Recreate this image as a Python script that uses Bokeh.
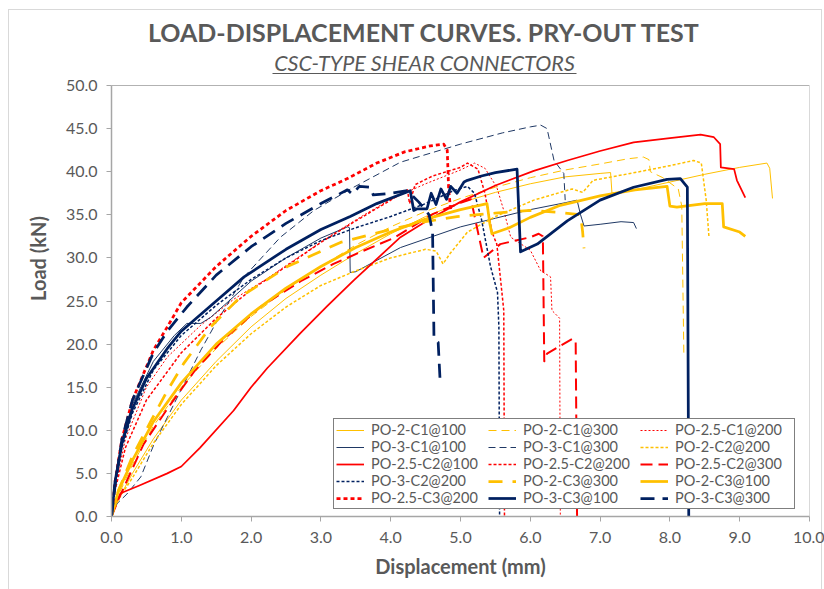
from bokeh.plotting import figure
from bokeh.models import (Legend, LegendItem, Label, BoxAnnotation, FixedTicker,
                          NumeralTickFormatter, Range1d)
from bokeh.embed import file_html
from bokeh.resources import INLINE

# ---------------- data ----------------
x_ticks = [0, 1, 2, 3, 4, 5, 6, 7, 8, 9, 10]
y_ticks = [0, 5, 10, 15, 20, 25, 30, 35, 40, 45, 50]

po2_c1_100_x = [0, 0.1, 0.3, 0.6, 1.0, 1.5, 2.0, 2.5, 3.0, 3.5, 4.0, 4.5, 5.0, 5.5, 6.0, 6.5, 7.0, 7.15, 7.17, 7.5, 8.0, 8.5, 9.0, 9.39, 9.43, 9.47]
po2_c1_100_y = [0, 2, 5, 9, 13.5, 18, 22, 25.3, 28, 30.5, 32.8, 34.8, 36.4, 37.6, 38.6, 39.4, 39.8, 39.9, 37.5, 37.9, 38.8, 39.7, 40.5, 41.0, 40.4, 36.9]

po2_c1_300_x = [0, 0.1, 0.3, 0.6, 1.0, 1.5, 2.0, 2.5, 3.0, 3.5, 4.0, 4.5, 5.0, 5.5, 6.0, 6.5, 7.0, 7.4, 7.62, 7.7, 7.72, 7.9, 8.12, 8.17, 8.2]
po2_c1_300_y = [0, 2.5, 6, 10.5, 15, 19.5, 23.2, 26.3, 29, 31.5, 33.6, 35.4, 36.9, 38.2, 39.3, 40.2, 40.9, 41.5, 41.7, 41.4, 40.0, 39.3, 38.0, 36, 18.7]

po25_c1_200_x = [0, 0.05, 0.2, 0.5, 0.8, 1.28, 1.75, 2.23, 2.7, 3.18, 3.6, 4.0, 4.5, 5.0, 5.2, 5.35, 5.52, 5.62, 5.72, 6.0, 6.15, 6.29, 6.31, 6.36, 6.42, 6.43]
po25_c1_200_y = [0, 3.5, 9, 15, 18.5, 22.2, 25.2, 27.6, 30.2, 32.8, 34.9, 36.8, 38.6, 40.2, 41.0, 40.4, 38.2, 35.5, 32.4, 30.9, 28.5, 27.8, 23.9, 23.5, 23.0, 0]

po3_c1_100_x = [0, 0.05, 0.15, 0.3, 0.6, 0.9, 1.08, 1.28, 1.42, 2.0, 2.5, 3.0, 3.38, 3.41, 3.42, 3.5, 4.14, 5.0, 5.5, 6.0, 6.5, 6.67, 6.72, 6.77, 7.0, 7.3, 7.48, 7.52]
po3_c1_100_y = [0, 4, 9, 13, 18, 21, 22.4, 22.4, 23.1, 27.3, 30, 32.3, 33.6, 33.5, 28.3, 28.4, 31.2, 33.6, 34.6, 35.6, 36.4, 36.7, 35, 33.7, 33.9, 34.2, 34.1, 33.4]

po3_c1_300_x = [0, 0.08, 0.22, 0.42, 0.61, 0.8, 0.99, 1.28, 1.5, 1.9, 2.42, 2.9, 3.47, 4.14, 5.0, 5.6, 6.0, 6.15, 6.24, 6.34, 6.48, 6.5]
po3_c1_300_y = [0, 1.5, 2.6, 4.6, 8.4, 11.5, 14.6, 19.3, 22.5, 27.8, 32.4, 35.5, 38.2, 41.1, 43.2, 44.5, 45.2, 45.4, 45.0, 41.3, 39.8, 36.7]

po2_c2_200_x = [0, 0.1, 0.3, 0.6, 1.0, 1.5, 2.0, 2.5, 3.0, 3.5, 4.0, 4.5, 4.65, 4.75, 4.85, 5.1, 5.5, 6.05, 6.6, 6.75, 6.9, 7.5, 8.0, 8.34, 8.45, 8.52, 8.56]
po2_c2_200_y = [0, 2, 4.5, 8.5, 13, 17.5, 21.2, 24.3, 26.8, 28.5, 30, 31, 30.8, 29.3, 30.5, 33, 34.8, 36.7, 38.0, 37.6, 39.0, 39.9, 40.7, 41.3, 41.0, 36.7, 32.4]

po25_c2_100_x = [0, 0.05, 0.13, 0.4, 0.8, 1.0, 1.27, 1.75, 2.0, 2.23, 2.71, 3.09, 3.47, 4.14, 4.52, 5.0, 5.5, 6.05, 6.53, 7.0, 7.48, 8.0, 8.44, 8.63, 8.72, 8.73, 8.92, 8.96, 9.08]
po25_c2_100_y = [0, 1.5, 2.7, 3.6, 5.0, 5.8, 8.0, 12.3, 15.0, 17.2, 21.3, 24.4, 27.4, 32.4, 34.3, 36.5, 38.4, 40.1, 41.3, 42.4, 43.4, 43.9, 44.3, 44.0, 43.2, 40.5, 40.3, 39.0, 37.0]

po25_c2_200_x = [0, 0.05, 0.2, 0.5, 1.0, 1.5, 2.0, 2.5, 3.0, 3.5, 4.0, 4.24, 4.27, 4.35, 4.6, 5.0, 5.1, 5.25, 5.35, 5.45, 5.52, 5.57, 5.62, 5.63]
po25_c2_200_y = [0, 3, 8, 13.5, 19, 23, 26.3, 29, 31.8, 34.3, 36.7, 37.9, 36.3, 38.5, 39.5, 40.5, 41.0, 40.3, 37.5, 33, 31.6, 27.8, 23.9, 0]

po25_c2_300_x = [0, 0.1, 0.46, 0.8, 1.2, 1.6, 2.13, 2.71, 3.18, 3.6, 4.04, 4.61, 5.0, 5.15, 5.25, 5.33, 5.57, 6.0, 6.12, 6.18, 6.2, 6.24, 6.6, 6.65, 6.67]
po25_c2_300_y = [0, 2, 8.4, 12.5, 17, 20.5, 24.3, 27.3, 29.3, 30.8, 32.3, 35.1, 36.4, 36.8, 33, 30.0, 31.6, 32.4, 32.8, 32.5, 18.0, 18.9, 20.6, 20.4, 0]

po3_c2_200_x = [0, 0.05, 0.15, 0.3, 0.6, 1.0, 1.5, 2.0, 2.5, 3.0, 3.5, 4.0, 4.5, 4.9, 5.1, 5.2, 5.3, 5.43, 5.53, 5.55, 5.56]
po3_c2_200_y = [0, 3.5, 8, 12, 17, 21, 24.5, 27.5, 30, 32, 33.5, 34.8, 36.3, 37.8, 38.3, 37.5, 34.5, 29, 26, 22, 0]

po2_c3_300_x = [0, 0.1, 0.3, 0.56, 0.8, 1.03, 1.42, 1.85, 2.52, 3.28, 4.0, 4.5, 4.95, 5.5, 6.0, 6.4, 6.72, 6.75, 6.77]
po2_c3_300_y = [0, 3, 7, 11, 14.6, 17.7, 22, 25.5, 29, 31.8, 33.3, 34.2, 34.8, 35.2, 35.5, 35.3, 35.0, 33, 31.1]

po2_c3_100_x = [0, 0.1, 0.3, 0.6, 1.0, 1.5, 2.0, 2.5, 3.0, 3.5, 4.0, 4.5, 5.0, 5.38, 5.42, 5.45, 5.7, 6.0, 6.43, 7.0, 7.5, 7.96, 8.0, 8.1, 8.5, 8.75, 8.77, 9.0, 9.08]
po2_c3_100_y = [0, 3, 6.5, 11, 15.5, 20, 23.5, 26.5, 29, 31.2, 33, 34.5, 35.6, 36.3, 34, 32.8, 33.5, 34.7, 36.1, 37.2, 37.9, 38.3, 36.0, 35.9, 36.3, 36.3, 33.6, 33.0, 32.5]

po25_c3_200_x = [0, 0.05, 0.15, 0.3, 0.6, 0.8, 1.0, 1.5, 2.0, 2.5, 3.0, 3.38, 3.8, 4.2, 4.57, 4.76, 4.81, 4.83, 4.86]
po25_c3_200_y = [0, 4, 9, 13.5, 19.3, 22, 24.8, 29, 32.5, 35.5, 37.8, 39.2, 41, 42.3, 43.0, 43.2, 42.5, 38, 35.5]

po3_c3_100_x = [0, 0.05, 0.15, 0.3, 0.5, 0.8, 1.0, 1.5, 1.9, 2.5, 3.0, 3.42, 3.8, 4.28, 4.33, 4.38, 4.52, 4.58, 4.65, 4.72, 4.8, 4.86, 4.95, 5.05, 5.1, 5.3, 5.5, 5.81, 5.86, 6.1, 6.53, 7.0, 7.48, 7.96, 8.15, 8.25, 8.27]
po3_c3_100_y = [0, 4, 8.5, 12.5, 16, 19.5, 21.5, 25, 27.8, 31, 33.3, 34.8, 36.3, 37.8, 35.5, 35.7, 35.7, 37.5, 36.2, 38.0, 36.8, 38.3, 37.5, 38.8, 39.0, 39.5, 39.9, 40.3, 30.7, 31.6, 34.3, 36.7, 38.2, 39.1, 39.2, 38.2, 0]

po3_c3_300_x = [0, 0.05, 0.15, 0.3, 0.6, 0.8, 1.08, 1.5, 2.0, 2.5, 3.0, 3.38, 3.45, 3.55, 3.71, 3.75, 4.0, 4.24, 4.4, 4.55, 4.6, 4.62, 4.68, 4.71]
po3_c3_300_y = [0, 3.5, 9, 13.5, 19, 21.5, 24.3, 28, 31.3, 34, 36.3, 37.9, 37.4, 38.3, 38.2, 37.3, 37.5, 37.8, 36.5, 35.0, 33, 20.6, 20.2, 15.4]

series_names = ["PO-2-C1@100", "PO-2-C1@300", "PO-2.5-C1@200",
                "PO-3-C1@100", "PO-3-C1@300", "PO-2-C2@200",
                "PO-2.5-C2@100", "PO-2.5-C2@200", "PO-2.5-C2@300",
                "PO-3-C2@200", "PO-2-C3@300", "PO-2-C3@100",
                "PO-2.5-C3@200", "PO-3-C3@100", "PO-3-C3@300"]
series_x = [po2_c1_100_x, po2_c1_300_x, po25_c1_200_x, po3_c1_100_x, po3_c1_300_x, po2_c2_200_x,
            po25_c2_100_x, po25_c2_200_x, po25_c2_300_x, po3_c2_200_x, po2_c3_300_x, po2_c3_100_x,
            po25_c3_200_x, po3_c3_100_x, po3_c3_300_x]
series_y = [po2_c1_100_y, po2_c1_300_y, po25_c1_200_y, po3_c1_100_y, po3_c1_300_y, po2_c2_200_y,
            po25_c2_100_y, po25_c2_200_y, po25_c2_300_y, po3_c2_200_y, po2_c3_300_y, po2_c3_100_y,
            po25_c3_200_y, po3_c3_100_y, po3_c3_300_y]

title_text = "LOAD-DISPLACEMENT CURVES. PRY-OUT TEST"
subtitle_text = "CSC-TYPE SHEAR CONNECTORS"

# ---------------- styles ----------------
GOLD, RED, NAVY, NAVY_T = "#FFC000", "#FF0000", "#002060", "#1F3864"
styles = [
    (GOLD, 1.0, "solid"), (GOLD, 1.0, "8 5"), (RED, 1.0, "2 2"),
    (NAVY_T, 1.0, "solid"), (NAVY_T, 1.0, "7 4"), (GOLD, 1.5, "3 2"),
    (RED, 1.75, "solid"), (RED, 1.5, "3 2"), (RED, 2.0, "12 6"),
    (NAVY, 1.5, "3 2"), (GOLD, 2.75, "14 10"), (GOLD, 2.75, "solid"),
    (RED, 2.75, "4 3"), (NAVY, 2.75, "solid"), (NAVY, 2.75, "14 8"),
]

TXT = "#595959"
FONT = "Lato"
BORDER = "#D9D9D9"

Y_MIN, Y_MAX = y_ticks[0], y_ticks[-1]
X_MIN, X_MAX = x_ticks[0], x_ticks[-1]
FRAME_H = 516          # pixels from canvas top to the x axis
PLOT_H = 431           # pixels spanned by 0..50
y_top = Y_MAX * FRAME_H / PLOT_H   # head-room inside the frame for the titles

p = figure(width=824, height=589, output_backend="svg", toolbar_location=None,
           x_range=Range1d(X_MIN, X_MAX), y_range=Range1d(Y_MIN, y_top),
           min_border_left=111, min_border_right=15, min_border_top=0, min_border_bottom=73)
p.title.visible = False
p.xgrid.visible = False
p.ygrid.visible = False
p.outline_line_color = None
p.background_fill_color = None
p.border_fill_color = None
# light-grey chart-area border (drawn by the page behind the transparent canvas)
grad = "linear-gradient(%s,%s)" % (BORDER, BORDER)
p.styles = {
    "background-color": "white",
    "background-image": ", ".join([grad, grad, grad]),
    "background-position": "8px 9px, 8px 9px, 821px 9px",
    "background-size": "1px 600px, 814px 1px, 1px 600px",
    "background-repeat": "no-repeat",
}

# plot-area border (0..10 x 0..50)
p.add_layout(BoxAnnotation(left=X_MIN, right=X_MAX, bottom=Y_MIN, top=Y_MAX,
                           fill_color="white", fill_alpha=1.0,
                           line_color="black", line_width=1, level="underlay"))

items = []
for name, xs, ys, (c, w, d) in zip(series_names, series_x, series_y, styles):
    r = p.line(xs, ys, line_color=c, line_width=w, line_dash=d, line_join="round")
    items.append(LegendItem(label=name, renderers=[r]))

for ax in (p.xaxis[0], p.yaxis[0]):
    ax.axis_line_color = "#A6A6A6"
    ax.axis_line_width = 1.5
    ax.major_tick_line_color = "#A6A6A6"
    ax.major_tick_out = 5
    ax.major_tick_in = 0
    ax.minor_tick_out = 0
    ax.minor_tick_in = 0
    ax.major_label_text_font = FONT
    ax.major_label_text_font_size = "16px"
    ax.major_label_text_color = TXT
    ax.axis_label_text_font = FONT
    ax.axis_label_text_font_size = "20px"
    ax.axis_label_text_font_style = "bold"
    ax.axis_label_text_color = TXT
    ax.formatter = NumeralTickFormatter(format="0.0")

p.xaxis.ticker = FixedTicker(ticks=x_ticks)
p.yaxis.ticker = FixedTicker(ticks=y_ticks)
p.yaxis.bounds = (Y_MIN, Y_MAX)
p.xaxis.axis_label = "Displacement (mm)"
p.yaxis.axis_label = "Load (kN)"
p.xaxis.major_label_standoff = 10
p.yaxis.major_label_standoff = 9
p.xaxis.axis_label_standoff = 8
p.yaxis.axis_label_standoff = 13

legend = Legend(items=items, ncols=3, orientation="horizontal", location=(222, 7),
                border_line_color="black", border_line_width=1,
                label_text_font=FONT, label_text_font_size="14.5px", label_text_color=TXT,
                glyph_width=28, glyph_height=14, label_standoff=7, label_width=117,
                label_height=14, spacing=0, padding=2, margin=0,
                background_fill_color="white", background_fill_alpha=1.0)
p.add_layout(legend)

# titles, placed in the head-room above the plot area
px_per_y = PLOT_H / (Y_MAX - Y_MIN)
px_per_x = (809 - 111) / (X_MAX - X_MIN)
cx = X_MIN + (424 - 111) / px_per_x
p.add_layout(Label(x=cx, y=(FRAME_H - 31) / px_per_y, text=title_text,
                   text_align="center", text_baseline="middle",
                   text_font=FONT, text_font_size="25px", text_font_style="bold",
                   text_color=TXT))
p.add_layout(Label(x=cx, y=(FRAME_H - 62) / px_per_y, text=subtitle_text,
                   text_align="center", text_baseline="middle",
                   text_font=FONT, text_font_size="21.5px", text_font_style="italic",
                   text_color=TXT))
p.add_layout(BoxAnnotation(left=(272 - 111) / px_per_x, right=(576 - 111) / px_per_x,
                           bottom=(FRAME_H - 73.6) / px_per_y, top=(FRAME_H - 72.4) / px_per_y,
                           fill_color=TXT, fill_alpha=1.0, line_alpha=0))

open("out.html", "w").write(file_html(p, INLINE))
